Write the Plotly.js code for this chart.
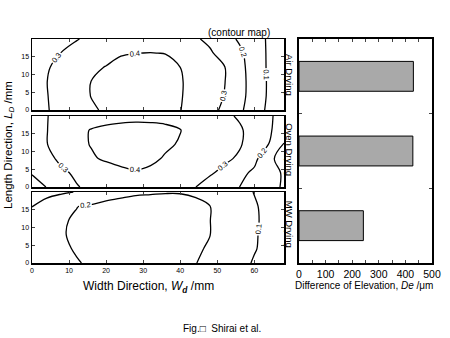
<!DOCTYPE html>
<html>
<head>
<meta charset="utf-8">
<script src="https://cdn.plot.ly/plotly-3.0.1.min.js"></script>
<style>html,body{margin:0;padding:0;background:#fff;}#chart{width:450px;height:338px;}</style>
</head>
<body>
<div id="chart"></div>
<script>
// Grid of the contour maps (width W_d / mm, length L_D / mm)
const widthGrid = [0,4,8,12,16,20,24,28,32,36,40,44,48,52,56,60,64,68];
const lengthGrid = [0,4,8,12,16,20];

// Elevation fields (mm), one row per lengthGrid value
const zAirDrying = [
  [0.27,0.295,0.326,0.358,0.39,0.41,0.425,0.44,0.427,0.415,0.402,0.367,0.327,0.281,0.221,0.141,0.082,0.05],
  [0.27,0.297,0.332,0.368,0.402,0.418,0.434,0.45,0.435,0.42,0.405,0.374,0.336,0.297,0.232,0.156,0.086,0.05],
  [0.27,0.299,0.333,0.367,0.401,0.414,0.427,0.44,0.428,0.417,0.405,0.379,0.34,0.302,0.234,0.157,0.087,0.05],
  [0.27,0.294,0.321,0.35,0.378,0.405,0.43,0.44,0.44,0.43,0.4,0.367,0.335,0.302,0.231,0.152,0.086,0.05],
  [0.26,0.281,0.302,0.32,0.34,0.36,0.392,0.399,0.402,0.398,0.37,0.34,0.31,0.268,0.218,0.149,0.086,0.05],
  [0.24,0.259,0.278,0.297,0.312,0.326,0.339,0.353,0.353,0.338,0.324,0.309,0.284,0.236,0.188,0.136,0.088,0.05]
];
const zOvenDrying = [
  [0.17,0.202,0.249,0.295,0.317,0.336,0.355,0.351,0.341,0.332,0.32,0.302,0.267,0.233,0.2,0.164,0.127,0.09],
  [0.205,0.246,0.286,0.313,0.332,0.345,0.365,0.39,0.385,0.37,0.35,0.33,0.31,0.278,0.228,0.18,0.134,0.09],
  [0.24,0.279,0.317,0.352,0.387,0.415,0.444,0.438,0.415,0.393,0.374,0.354,0.335,0.315,0.288,0.229,0.108,0.085],
  [0.27,0.298,0.336,0.373,0.405,0.423,0.441,0.442,0.427,0.411,0.394,0.372,0.351,0.329,0.308,0.261,0.198,0.095],
  [0.27,0.298,0.337,0.373,0.405,0.42,0.43,0.44,0.435,0.425,0.402,0.382,0.357,0.333,0.31,0.269,0.211,0.15],
  [0.27,0.298,0.32,0.34,0.355,0.365,0.37,0.37,0.37,0.365,0.36,0.345,0.33,0.315,0.291,0.253,0.214,0.16]
];
const zMWDrying = [
  [0.14,0.158,0.177,0.195,0.21,0.223,0.237,0.25,0.238,0.226,0.214,0.203,0.178,0.149,0.12,0.094,0.077,0.06],
  [0.14,0.164,0.188,0.206,0.217,0.228,0.239,0.25,0.24,0.229,0.219,0.208,0.194,0.164,0.134,0.104,0.081,0.06],
  [0.15,0.173,0.196,0.209,0.219,0.229,0.24,0.25,0.24,0.23,0.22,0.211,0.201,0.17,0.138,0.106,0.082,0.06],
  [0.14,0.167,0.193,0.208,0.218,0.229,0.24,0.25,0.24,0.23,0.22,0.211,0.201,0.17,0.139,0.108,0.083,0.06],
  [0.098,0.133,0.166,0.198,0.21,0.23,0.24,0.245,0.245,0.24,0.235,0.225,0.201,0.169,0.138,0.106,0.082,0.06],
  [0.06,0.075,0.089,0.103,0.125,0.15,0.17,0.185,0.19,0.195,0.195,0.185,0.16,0.14,0.12,0.098,0.08,0.06]
];

// Bar chart
const dryingMethods = ['Air Drying','Oven Drying','MW Drying'];
const elevationDiff = [430, 428, 242];

const lengthTicks = [0,5,10,15];
const widthTicks = [0,10,20,30,40,50,60];

const FONT = 'Liberation Sans, Arial, sans-serif';
const black = [[0,'#000'],[1,'#000']];

function contourTrace(z, xa, ya, start, end) {
  return {
    type: 'contour', x: widthGrid, y: lengthGrid, z: z, xaxis: xa, yaxis: ya,
    colorscale: black, showscale: false, hoverinfo: 'skip',
    contours: {coloring: 'lines', start: start, end: end, size: 0.1, showlabels: true,
      labelformat: '.1f', labelfont: {size: 7.5, color: '#000', family: FONT}},
    line: {width: 1.3, color: '#000'}
  };
}

const traces = [
  contourTrace(zAirDrying, 'x', 'y', 0.1, 0.4),
  contourTrace(zOvenDrying, 'x2', 'y2', 0.1, 0.4),
  contourTrace(zMWDrying, 'x3', 'y3', 0.1, 0.2),
  {type: 'bar', orientation: 'h', y: dryingMethods, x: elevationDiff, xaxis: 'x4', yaxis: 'y4',
   width: 0.4, marker: {color: '#a9a9a9', line: {color: '#000', width: 1}}, hoverinfo: 'skip'}
];

const xDom = [32/450, 284/450];
function yDom(top, bottom) { return [1 - bottom/338, 1 - top/338]; }

function panelX(anchor, labels) {
  return {domain: xDom, anchor: anchor, range: [0,68], tickvals: widthTicks,
    showticklabels: labels, ticks: 'inside', ticklen: 3, tickwidth: 1, mirror: 'ticks',
    showline: true, linecolor: '#000', linewidth: 1.5, showgrid: false, zeroline: false,
    tickfont: {size: 7, family: FONT, color: '#000'}, automargin: false};
}
function panelY(anchor, dom) {
  return {domain: dom, anchor: anchor, range: [0,20], tickvals: lengthTicks,
    ticks: 'inside', ticklen: 3, tickwidth: 1, mirror: 'ticks',
    showline: true, linecolor: '#000', linewidth: 1.5, showgrid: false, zeroline: false,
    tickfont: {size: 7, family: FONT, color: '#000'}, automargin: false};
}

const ann = (text, x, y, size, extra) => Object.assign({
  text: text, x: x/450, y: 1 - y/338, xref: 'paper', yref: 'paper',
  xanchor: 'center', yanchor: 'middle', showarrow: false,
  font: {size: size, family: FONT, color: '#000'}}, extra || {});

const layout = {
  width: 450, height: 338, margin: {l: 0, r: 0, t: 0, b: 0},
  paper_bgcolor: '#fff', plot_bgcolor: '#fff', showlegend: false,
  font: {family: FONT, color: '#000'},
  xaxis: panelX('y', false),
  yaxis: panelY('x', yDom(39, 110)),
  xaxis2: panelX('y2', false),
  yaxis2: panelY('x2', yDom(116, 187)),
  xaxis3: panelX('y3', true),
  yaxis3: panelY('x3', yDom(192, 263)),
  xaxis4: {domain: [299/450, 432/450], anchor: 'y4', range: [0,500], dtick: 100, tick0: 0,
    ticks: 'inside', ticklen: 3, mirror: 'ticks', showline: true, linecolor: '#000', linewidth: 2,
    minor: {dtick: 50, ticks: 'inside', ticklen: 3},
    showgrid: false, zeroline: false, tickfont: {size: 10.5, family: FONT, color: '#000'}, automargin: false},
  yaxis4: {domain: yDom(39, 263), anchor: 'x4', type: 'category', range: [2.5, -0.5],
    tickangle: 90, tickson: 'boundaries', ticks: 'inside', ticklen: 3, mirror: 'ticks',
    showline: true, linecolor: '#000', linewidth: 2, showgrid: false, zeroline: false,
    tickfont: {size: 9.5, family: FONT, color: '#000'}, automargin: false},
  annotations: [
    ann('(contour map)', 239, 33, 10),
    ann('Length Direction, <i>L</i><sub><i>D</i></sub> /mm', 9, 145, 11.5, {textangle: -90}),
    ann('Width Direction, <i>W</i><sub><b><i>d</i></b></sub> /mm', 148, 287, 12),
    ann('Difference of Elevation, <i>De</i> /μm', 364, 285, 10),
    ann('Fig.□  Shirai et al.', 222, 328, 10)
  ]
};

Plotly.newPlot('chart', traces, layout, {staticPlot: true, displayModeBar: false});
</script>
</body>
</html>
